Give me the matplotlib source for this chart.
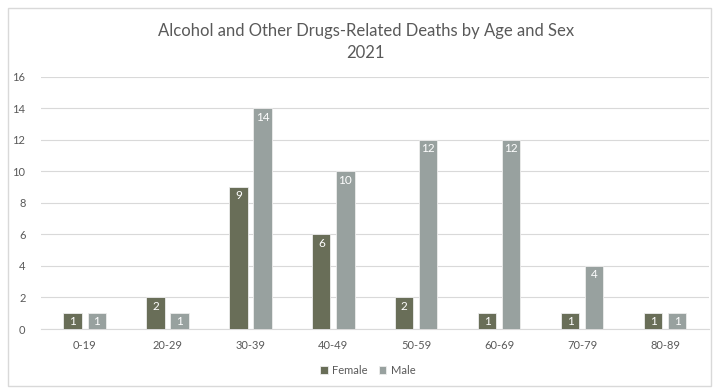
import numpy as np
import matplotlib.pyplot as plt
from matplotlib.patches import Rectangle

# Alcohol and other drugs-related deaths, 2021
age_groups = ["0-19", "20-29", "30-39", "40-49", "50-59", "60-69", "70-79", "80-89"]
female = [1, 2, 9, 6, 2, 1, 1, 1]
male = [1, 1, 14, 10, 12, 12, 4, 1]
yticks = [0, 2, 4, 6, 8, 10, 12, 14, 16]

female_color = "#696E58"
male_color = "#98A19F"
text_color = "#595959"

plt.rcParams['font.family'] = ['Lato', 'DejaVu Sans']


def main():
    fig = plt.figure(figsize=(7.14, 3.88), dpi=100)
    ax = fig.add_axes([0.057, 0.152, 0.936, 0.65])

    # outer chart border
    fig.patches.append(Rectangle((0.011, 0.005), 0.985, 0.975, transform=fig.transFigure,
                                 fill=False, edgecolor="#D9D9D9", linewidth=1))

    x = np.arange(len(age_groups))
    w = 0.22
    off = 0.145
    bf = ax.bar(x - off, female, w, color=female_color, edgecolor="#EDEDED", linewidth=0.6,
                label="Female", zorder=3)
    bm = ax.bar(x + off, male, w, color=male_color, edgecolor="#EDEDED", linewidth=0.6,
                label="Male", zorder=3)

    for bars, vals in [(bf, female), (bm, male)]:
        for b, v in zip(bars, vals):
            ax.text(b.get_x() + b.get_width() / 2, v - 0.2, str(v), ha="center", va="top",
                    color="white", fontsize=8.5, zorder=4)

    ax.set_xlim(-0.53, len(age_groups) - 0.47)
    ax.set_ylim(0, 16)
    ax.set_yticks(yticks)
    ax.set_xticks(x)
    ax.set_xticklabels(age_groups)
    ax.tick_params(axis="both", length=0, labelsize=8, colors=text_color)
    ax.tick_params(axis="x", pad=8)
    ax.tick_params(axis="y", pad=11)
    ax.grid(axis="y", color="#D9D9D9", linewidth=0.8, zorder=0)
    for s in ["top", "right", "left"]:
        ax.spines[s].set_visible(False)
    ax.spines["bottom"].set_color("#D9D9D9")

    fig.text(0.512, 0.892, "Alcohol and Other Drugs-Related Deaths by Age and Sex\n2021",
             ha="center", va="center", fontsize=12, color=text_color,
             linespacing=1.45)

    fig.legend(handles=[bf, bm], loc="center", bbox_to_anchor=(0.515, 0.045), ncol=2,
               frameon=False, fontsize=8, handlelength=0.7, handleheight=0.7,
               handletextpad=0.4, columnspacing=1.0, labelcolor=text_color)

    fig.savefig("out.png", dpi=100)


if __name__ == "__main__":
    main()
